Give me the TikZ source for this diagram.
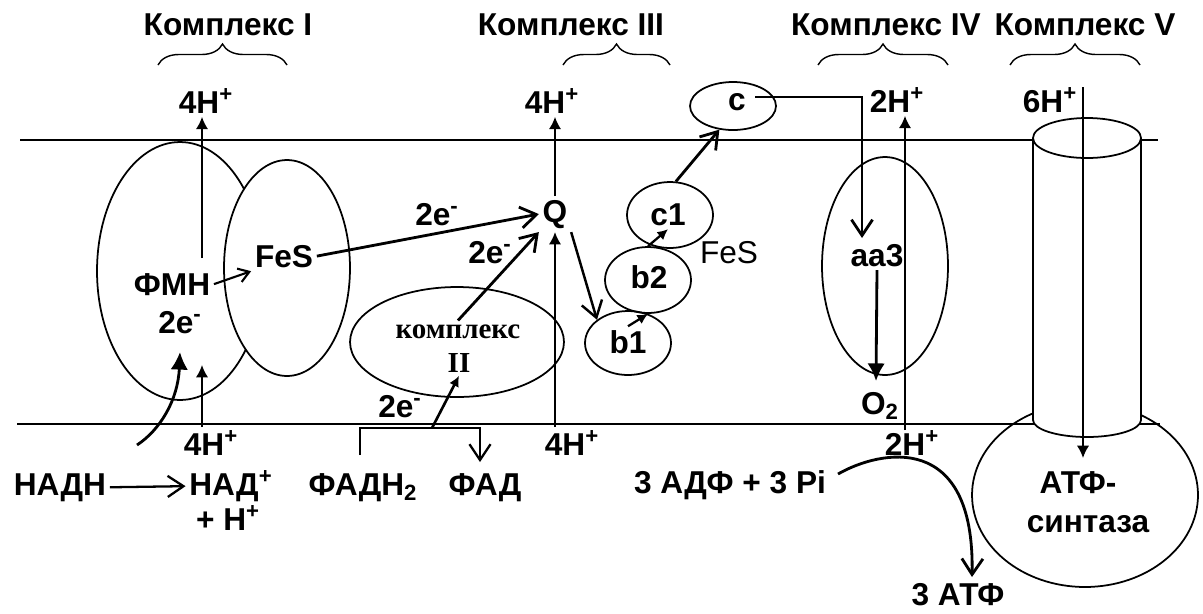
\documentclass[tikz,border=0pt]{standalone}
\usepackage{fontspec}
\setmainfont{Liberation Sans}
\newfontfamily\serifcyr{Liberation Serif}
\usetikzlibrary{positioning,arrows.meta,shapes.geometric,decorations.pathreplacing}

\begin{document}
\begin{tikzpicture}[x=0.02cm,y=-0.02cm,
        lbl/.style={font=\bfseries\fontsize{18}{20}\selectfont,inner sep=2pt,anchor=base},
        oval/.style={draw,ellipse,line width=1pt,inner sep=0pt},
        earr/.style={-{Straight Barb[length=9pt,width=12pt]},line width=1.6pt},
        farr/.style={-{Latex[length=10pt,width=10pt]},line width=1.6pt},
        sarr/.style={-{Latex[length=6pt,width=6pt]},line width=1.3pt},
        parr/.style={-{Latex[length=7pt,width=7pt]},line width=1pt},
        brc/.style={decorate,decoration={brace,amplitude=0.42cm},line width=0.8pt}]
        \useasboundingbox (0,0) rectangle (1203,613);
        \coordinate (m1) at (20,140);
        \coordinate (m2) at (1158,140);
        \coordinate (m3) at (17,424);
        \coordinate (m4) at (1160,424);
        \draw[line width=1.2pt] (m1) -- (m2);
        \draw[line width=1.2pt] (m3) -- (m4);

        \node[lbl] (t1) at (228,35) {Комплекс I};
        \node[lbl] (t3) at (571,35) {Комплекс III};
        \node[lbl] (t4) at (886,35) {Комплекс IV};
        \node[lbl] (t5) at (1085,35) {Комплекс V};
        \draw[brc] (158,65) -- (287,65);
        \draw[brc] (563,65) -- (670,65);
        \draw[brc] (818,65) -- (948,65);
        \draw[brc] (1010,65) -- (1140,65);

        \node[oval,minimum width=3.32cm,minimum height=5.16cm] (fmnbox) at (180,271) {};
        \node[oval,fill=white,minimum width=2.52cm,minimum height=4.32cm] (fesbox) at (287,268) {};
        \node[oval,minimum width=4.28cm,minimum height=2.2cm] (kbox) at (457,342) {};
        \node[oval,minimum width=1.72cm,minimum height=1.28cm] (b1box) at (628,343) {};
        \node[oval,minimum width=1.72cm,minimum height=1.32cm] (b2box) at (648,280) {};
        \node[oval,minimum width=1.72cm,minimum height=1.32cm] (c1box) at (670,215) {};
        \node[oval,minimum width=1.72cm,minimum height=0.96cm] (cbox) at (733,106) {};
        \node[oval,minimum width=2.52cm,minimum height=4.36cm] (aa3box) at (885,266) {};
        \node[oval,minimum width=4.52cm,minimum height=3.68cm] (bulb) at (1085,495) {};
        \draw[line width=1pt,fill=white] (1033,138) -- (1033,420)
            arc[start angle=180,end angle=0,x radius=54,y radius=17] -- (1141,138);
        \draw[line width=1pt,fill=white] (1087,138) ellipse [x radius=54,y radius=20];

        \node[lbl] (h1) at (206,113) {4H\textsuperscript{+}};
        \node[lbl] (h3) at (552,113) {4H\textsuperscript{+}};
        \node[lbl] (h4) at (897,112) {2H\textsuperscript{+}};
        \node[lbl] (h5) at (1050,112) {6H\textsuperscript{+}};
        \node[lbl] (c) at (737,110) {c};
        \node[lbl] (fes1) at (284,267) {FeS};
        \node[lbl] (fmn) at (172,295) {ФМН};
        \node[lbl] (e1) at (180,333) {2e\textsuperscript{-}};
        \node[lbl] (e2) at (437,225) {2e\textsuperscript{-}};
        \node[lbl] (q) at (555,222) {Q};
        \node[lbl] (e3) at (490,263) {2e\textsuperscript{-}};
        \node[lbl,font=\serifcyr\bfseries\fontsize{16.5}{18}\selectfont] (k) at (458,338) {комплекс};
        \node[lbl,font=\serifcyr\bfseries\fontsize{16.5}{18}\selectfont] (k2) at (459,372) {II};
        \node[lbl] (e4) at (400,417) {2e\textsuperscript{-}};
        \node[lbl] (b1) at (628,353) {b1};
        \node[lbl] (b2) at (649,288) {b2};
        \node[lbl] (c1) at (668,225) {c1};
        \node[lbl,font=\fontsize{18}{20}\selectfont] (fes2) at (729,263) {FeS};
        \node[lbl] (aa3) at (877,266) {aa3};
        \node[lbl] (o2) at (880,414) {O\textsubscript{2}};
        \node[lbl] (hb1) at (211,455) {4H\textsuperscript{+}};
        \node[lbl] (hb3) at (572,455) {4H\textsuperscript{+}};
        \node[lbl] (hb4) at (912,455) {2H\textsuperscript{+}};
        \node[lbl] (nadh) at (60,495) {НАДН};
        \node[lbl] (nad) at (231,495) {НАД\textsuperscript{+}};
        \node[lbl] (hplus) at (228,530) {+ Н\textsuperscript{+}};
        \node[lbl] (fadh) at (363,495) {ФАДН\textsubscript{2}};
        \node[lbl] (fad) at (485,495) {ФАД};
        \node[lbl] (adp) at (730,493) {3 АДФ + 3 Pi};
        \node[lbl] (atps) at (1078,493) {АТФ-};
        \node[lbl] (atps2) at (1088,532) {синтаза};
        \node[lbl] (atp) at (958,605) {3 АТФ};

        \coordinate (p1) at (202,258);
        \coordinate (p3) at (202,365);
        \coordinate (n0) at (137,445);
        \coordinate (n1) at (180,352);
        \coordinate (f1) at (360,455);
        \coordinate (f2) at (480,428);
        \coordinate (f3) at (480,462);
        \coordinate (f4) at (432,428);
        \coordinate (ca) at (755,97);
        \coordinate (cb) at (862,238);
        \coordinate (o2t) at (876,381);
        \coordinate (p4) at (905,430);
        \coordinate (p5) at (1083,87);
        \coordinate (p6) at (1083,458);
        \coordinate (a0) at (838,474);
        \coordinate (a1) at (972,577);

        \draw[parr] (p1) -- (p1 |- h1.south);
        \draw[parr] (hb1.north -| p1) -- (p3);
        \draw[farr] (n0) .. controls (160,430) and (178,400) .. (n1);
        \draw[earr,line width=1.3pt] (nadh.east) -- (nad.west);
        \draw[-{Straight Barb[length=6pt,width=8pt]},line width=1.2pt] (fmn.east) -- (fes1.south west);
        \draw[earr] (fes1.east) -- (q.west);
        \draw[earr] (k.north) -- (q.south west);
        \draw[earr,line width=1.3pt] (f1) |- (f2) -- (f3);
        \draw[sarr,line width=1.5pt] (f4) -- (k2.south);
        \draw[parr] (q.south |- hb3.north) -- (q.south);
        \draw[parr] (q.north) -- (q.north |- h3.south);
        \draw[earr,line width=1.4pt] (q.south east) -- (b1box.north west);
        \draw[sarr] (b1.north) -- (b2box.south);
        \draw[sarr] (b2box.north) -- (c1.south);
        \draw[earr] (c1box.80) -- (cbox.-120);
        \draw[earr] (ca) -| (cb);
        \draw[farr] (aa3.south) -- (o2t);
        \draw[parr] (p4) -- (p4 |- h4.south);
        \draw[parr] (p5) -- (p6);
        \draw[earr] (a0) .. controls (880,450) and (975,430) .. (a1);
    \end{tikzpicture}
\end{document}
